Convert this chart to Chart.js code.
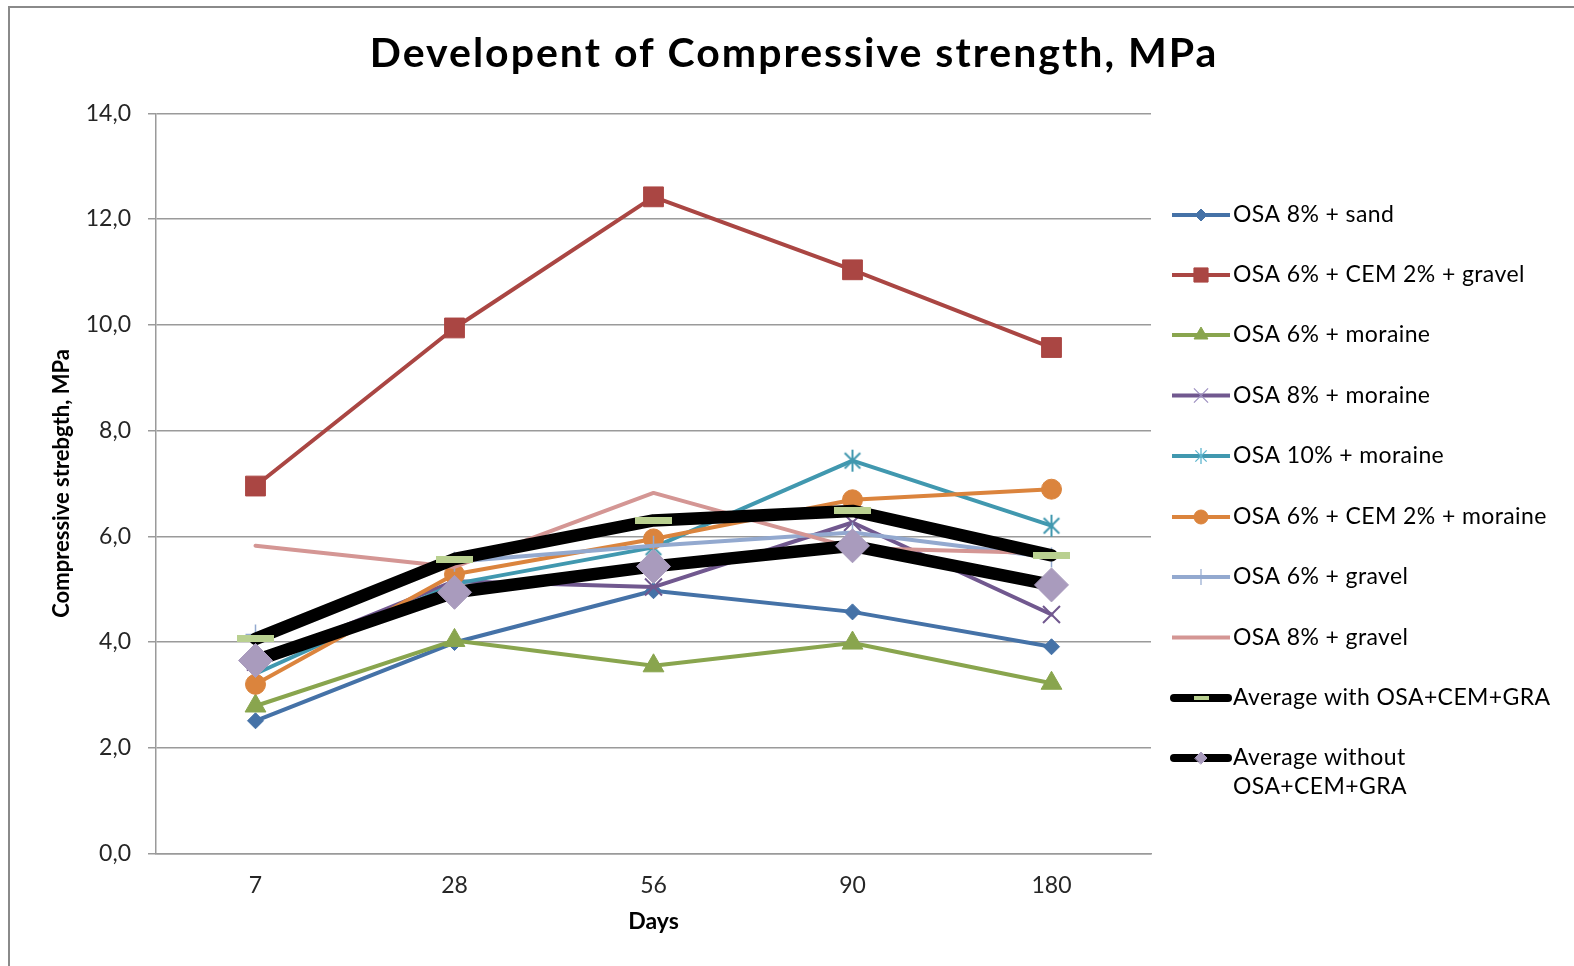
<!DOCTYPE html>
<html>
<head>
<meta charset="utf-8">
<script src="https://cdn.jsdelivr.net/npm/chart.js@4.4.1/dist/chart.umd.min.js"></script>
<style>
  html, body { margin: 0; padding: 0; background: #ffffff; }
  canvas { display: block; }
</style>
</head>
<body>
<canvas id="chart" width="1574" height="966"></canvas>
<script>
// Curing age (days) on the category axis
const days = ['7', '28', '56', '90', '180'];

// Compressive strength, MPa, per mix
const osa8Sand        = [2.51, 3.99, 4.97, 4.57, 3.91];
const osa6Cem2Gravel  = [6.95, 9.94, 12.42, 11.04, 9.57];
const osa6Moraine     = [2.79, 4.03, 3.55, 3.98, 3.22];
const osa8Moraine     = [3.62, 5.15, 5.04, 6.26, 4.52];
const osa10Moraine    = [3.40, 5.10, 5.79, 7.43, 6.20];
const osa6Cem2Moraine = [3.20, 5.28, 5.95, 6.69, 6.89];
const osa6Gravel      = [4.14, 5.52, 5.82, 6.07, 5.60];
const osa8Gravel      = [5.82, 5.42, 6.82, 5.78, 5.68];
const avgWith         = [4.06, 5.57, 6.30, 6.48, 5.64];
const avgWithout      = [3.65, 4.94, 5.43, 5.82, 5.08];

// Value axis range and step
const yMin = 0, yMax = 14, yStep = 2;

const FONT = 'Lato, "Open Sans", sans-serif';

// Small canvas markers for shapes Chart.js has no built-in style for
function asteriskMarker(r, lw, color) {
  const s = Math.ceil(2 * r + lw + 2), c = s / 2;
  const cv = document.createElement('canvas');
  cv.width = s; cv.height = s;
  const g = cv.getContext('2d');
  g.strokeStyle = color; g.lineWidth = lw; g.lineCap = 'butt';
  const d = r * Math.SQRT1_2;
  g.beginPath();
  g.moveTo(c, c - r); g.lineTo(c, c + r);
  g.moveTo(c - d, c - d); g.lineTo(c + d, c + d);
  g.moveTo(c - d, c + d); g.lineTo(c + d, c - d);
  g.stroke();
  return cv;
}
function dashMarker(w, h, color) {
  const cv = document.createElement('canvas');
  cv.width = w; cv.height = h;
  const g = cv.getContext('2d');
  g.fillStyle = color; g.fillRect(0, 0, w, h);
  return cv;
}

const C = {
  blue: '#4572A7', red: '#AA4643', green: '#89A54E', purple: '#71588F',
  teal: '#4198AF', orange: '#DB843D', lightBlue: '#93A9CF', pink: '#D49694',
  lavender: '#A99BBD', dash: '#B9D090', black: '#000000'
};

// name, values, colour, line width, point style/radius for plot and legend
const series = [
  { label: 'OSA 8% + sand', data: osa8Sand, color: C.blue, width: 4, style: 'rectRot', r: 8, pbw: 1, lStyle: 'rectRot', lr: 6 },
  { label: 'OSA 6% + CEM 2% + gravel', data: osa6Cem2Gravel, color: C.red, width: 4, style: 'rect', r: 14, pbw: 1, lStyle: 'rect', lr: 10 },
  { label: 'OSA 6% + moraine', data: osa6Moraine, color: C.green, width: 4, style: 'triangle', r: 12, pbw: 1, lStyle: 'triangle', lr: 8 },
  { label: 'OSA 8% + moraine', data: osa8Moraine, color: C.purple, width: 4, style: 'crossRot', r: 12, pbw: 2, lStyle: 'crossRot', lr: 10, lColor: '#9d8fc0', lbw: 1.2 },
  { label: 'OSA 10% + moraine', data: osa10Moraine, color: C.teal, width: 4, style: asteriskMarker(11, 2, C.teal), r: 11, pbw: 2, lStyle: asteriskMarker(8, 1.3, '#5fb6cf'), lr: 8 },
  { label: 'OSA 6% + CEM 2% + moraine', data: osa6Cem2Moraine, color: C.orange, width: 4, style: 'circle', r: 10, pbw: 1, lStyle: 'circle', lr: 7 },
  { label: 'OSA 6% + gravel', data: osa6Gravel, color: C.lightBlue, width: 4, style: 'cross', r: 10, pbw: 1.5, lStyle: 'cross', lr: 8, lbw: 1.2 },
  { label: 'OSA 8% + gravel', data: osa8Gravel, color: C.pink, width: 4, style: 'circle', r: 0, pbw: 0, lStyle: null, lr: 0 },
  { label: 'Average with OSA+CEM+GRA', data: avgWith, color: C.black, width: 12.5, style: dashMarker(37, 7, C.dash), r: 10, pbw: 0, lStyle: dashMarker(15, 4, C.dash), lr: 6, lw: 8 },
  { label: ['Average without', 'OSA+CEM+GRA'], data: avgWithout, color: C.black, width: 12.5, style: 'rectRot', r: 17, pbw: 1, pColor: C.lavender, lStyle: 'rectRot', lr: 6, lw: 8 }
];

const datasets = series.map((s, i) => ({
  label: Array.isArray(s.label) ? s.label.join(' ') : s.label,
  data: s.data,
  borderColor: s.color,
  backgroundColor: s.color,
  borderWidth: s.width,
  borderJoinStyle: 'round',
  borderCapStyle: 'round',
  tension: 0,
  pointStyle: s.style,
  pointRadius: s.r,
  pointBorderWidth: s.pbw,
  pointBackgroundColor: s.pColor || s.color,
  pointBorderColor: s.pColor || s.color,
  order: -i
}));

// Frame and title
const framePlugin = {
  id: 'frame',
  beforeDraw(chart) {
    const ctx = chart.ctx;
    ctx.save();
    ctx.fillStyle = '#ffffff';
    ctx.fillRect(0, 0, chart.width, chart.height);
    ctx.strokeStyle = '#8a8a8a';
    ctx.lineWidth = 2;
    ctx.strokeRect(9, 7, 1620, 1020);
    ctx.fillStyle = '#000000';
    ctx.font = 'bold 41px ' + FONT;
    ctx.letterSpacing = '2px';
    ctx.textAlign = 'center';
    ctx.textBaseline = 'alphabetic';
    ctx.fillText('Developent of Compressive strength, MPa', 794, 67);
    ctx.restore();
  }
};

// Legend drawn at the right: line sample with marker, then text
const legendPlugin = {
  id: 'sideLegend',
  afterDraw(chart) {
    const ctx = chart.ctx;
    const x1 = 1172, x2 = 1230, tx = 1233;
    const ys = [215, 275, 335, 395.5, 456, 517, 577, 637.5, 698, 758];
    ctx.save();
    series.forEach((s, i) => {
      const y = ys[i];
      ctx.strokeStyle = s.color;
      ctx.lineWidth = s.lw || 4;
      ctx.lineCap = s.lw ? 'round' : 'butt';
      ctx.beginPath();
      ctx.moveTo(x1 + (s.lw ? 2 : 0), y);
      ctx.lineTo(x2 - (s.lw ? 2 : 0), y);
      ctx.stroke();
      if (s.lStyle) {
        const col = s.lColor || s.pColor || s.color;
        ctx.fillStyle = col;
        ctx.strokeStyle = col;
        ctx.lineWidth = s.lbw || 1;
        Chart.helpers.drawPoint(ctx, { pointStyle: s.lStyle, radius: s.lr, rotation: 0, borderWidth: s.lbw || 1 }, (x1 + x2) / 2, y);
      }
      ctx.fillStyle = '#000000';
      ctx.font = '23px ' + FONT;
      ctx.letterSpacing = '0.4px';
      ctx.textAlign = 'left';
      ctx.textBaseline = 'middle';
      const lines = Array.isArray(s.label) ? s.label : [s.label];
      lines.forEach((t, k) => ctx.fillText(t, tx, y + k * 29));
    });
    ctx.restore();
  }
};

new Chart(document.getElementById('chart'), {
  type: 'line',
  data: { labels: days, datasets },
  plugins: [framePlugin, legendPlugin],
  options: {
    responsive: false,
    animation: false,
    devicePixelRatio: 1,
    layout: { padding: { left: 0, top: 113.3, right: 1574 - 1151, bottom: 0 } },
    plugins: {
      legend: { display: false },
      title: { display: false },
      tooltip: { enabled: false }
    },
    scales: {
      x: {
        type: 'category',
        offset: true,
        grid: { display: false, drawTicks: false },
        border: { display: true, color: '#9a9a9a', width: 1.5 },
        ticks: { color: '#262626', font: { family: FONT, size: 23 }, padding: 18, maxRotation: 0 },
        title: { display: true, text: 'Days', color: '#000000', font: { family: FONT, size: 23, weight: 'bold' }, padding: { top: 0, bottom: 31 } },
        afterFit(scale) { scale.height = 966 - 853.5; }
      },
      y: {
        min: yMin,
        max: yMax,
        ticks: {
          stepSize: yStep,
          color: '#262626',
          font: { family: FONT, size: 23 },
          padding: 17,
          callback: v => v.toFixed(1).replace('.', ',')
        },
        grid: { color: '#9a9a9a', lineWidth: 1.5, tickLength: 8, drawTicks: true },
        border: { display: true, color: '#9a9a9a', width: 1.5 },
        title: { display: true, text: 'Compressive strebgth, MPa', color: '#000000', font: { family: FONT, size: 22, weight: 'bold' }, padding: { top: 49, bottom: 0 } },
        afterFit(scale) { scale.width = 156; }
      }
    }
  }
});
</script>
</body>
</html>
